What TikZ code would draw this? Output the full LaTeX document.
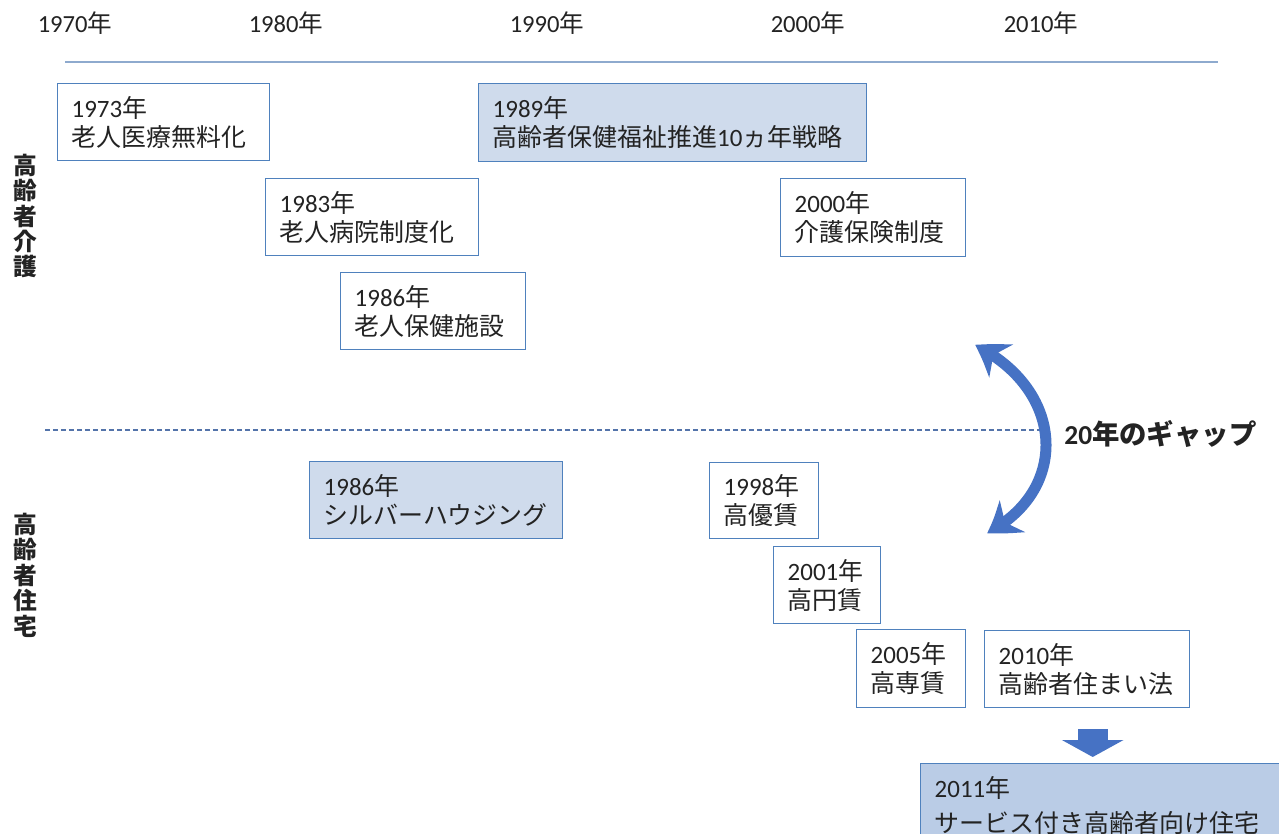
\documentclass[tikz,border=0pt]{standalone}
\usepackage{fontspec}
\setmainfont{Noto Sans CJK JP}
\newfontfamily\lat{Carlito}
\usetikzlibrary{arrows.meta,bending}
\definecolor{boxblue}{RGB}{79,129,189}
\definecolor{shadeA}{RGB}{207,219,236}
\definecolor{shadeB}{RGB}{186,204,230}
\definecolor{arrblue}{RGB}{70,114,196}
\definecolor{ruleblue}{RGB}{142,170,206}
\definecolor{dashblue}{RGB}{84,116,170}
\definecolor{ink}{RGB}{35,35,35}
\tikzset{
  evbox/.style={draw=boxblue,line width=0.8pt,fill=white,anchor=north west,align=left,
    inner xsep=0.28cm,inner ysep=0pt,text=ink,font=\fontsize{14.2}{16.5}\selectfont},
  shaded/.style={fill=shadeA},
  yearlab/.style={inner sep=0pt,text=ink,font=\fontsize{14}{16}\selectfont},
  sidelab/.style={inner sep=0pt,align=center,text=ink,font=\fontsize{13.5}{14.5}\selectfont\bfseries},
  gaparr/.style={draw=arrblue,line width=0.22cm,
    {Stealth[length=0.62cm,width=0.8cm,inset=0.2cm,bend]}-{Stealth[length=0.62cm,width=0.8cm,inset=0.2cm,bend]}},
  downarr/.style={draw=arrblue,line width=0.6cm,-{Triangle[width=1.22cm,length=0.34cm]}},
}
\newcommand{\yr}[1]{{\lat #1}年}
\newcommand{\evbox}[7][]{% [style], name, x, y, width, height, text   (px units)
  \pgfmathsetlengthmacro\evtw{#5*0.02cm-0.56cm}%
  \pgfmathsetlengthmacro\evth{#6*0.02cm}%
  \node[evbox,#1,text width=\evtw,minimum height=\evth] (#2) at (#3,#4) {#7};}
\begin{document}
\begin{tikzpicture}[x=0.02cm,y=-0.02cm]
  \clip (0,0) rectangle (1279,834);
  \fill[white] (0,0) rectangle (1279,834);
  % decade labels and rules
  \foreach \yy/\xx in {1970/75,1980/286,1990/547,2000/808,2010/1041}
    \node[yearlab] (dec\yy) at (\xx,23) {\yr{\yy}};
  \draw[ruleblue,line width=0.85pt] (65,62) -- (1218,62);
  \draw[dashblue,line width=0.85pt,dash pattern=on 0.1cm off 0.06cm] (45,430) -- (1040,430);
  \node[sidelab] (care) at (25,216) {高\\齢\\者\\介\\護};
  \node[sidelab] (house) at (25,575) {高\\齢\\者\\住\\宅};
  % care side
  \evbox{ev1973}{57}{83}{212}{77}{\yr{1973}\\老人医療無料化}
  \evbox[shaded]{ev1989}{478}{83}{388}{78}{\yr{1989}\\高齢者保健福祉推進{\lat 10}ヵ年戦略}
  \evbox{ev1983}{265}{178}{213}{77}{\yr{1983}\\老人病院制度化}
  \evbox{ev2000}{780}{178}{185}{78}{\yr{2000}\\介護保険制度}
  \evbox{ev1986}{340}{272}{185}{77}{\yr{1986}\\老人保健施設}
  % housing side
  \evbox[shaded]{evsilver}{309}{461}{253}{77}{\yr{1986}\\シルバーハウジング}
  \evbox{ev1998}{709}{462}{109}{76}{\yr{1998}\\高優賃}
  \evbox{ev2001}{773}{546}{107}{77}{\yr{2001}\\高円賃}
  \evbox{ev2005}{856}{629}{109}{78}{\yr{2005}\\高専賃}
  \evbox{ev2010}{984}{630}{205}{77}{\yr{2010}\\高齢者住まい法}
  \evbox[fill=shadeB,font=\fontsize{14.2}{19.9}\selectfont]{ev2011}{920}{763}{360}{83}{\yr{2011}\\サービス付き高齢者向け住宅}
  \draw[downarr] (ev2010.south) ++(5.5,21) coordinate (dtop) -- ([yshift=0.12cm]dtop |- ev2011.north);
  % gap arrow
  \coordinate (gaptop) at (975,345);
  \coordinate (gapbot) at (987,533);
  \draw[gaparr] (gaptop) .. controls (1065,390) and (1070,490) .. (gapbot);
  \node[anchor=west,inner sep=0pt,text=ink,font=\fontsize{15.6}{18}\selectfont\bfseries] (gap) at (1064,434) {{\lat 20}年のギャップ};
\end{tikzpicture}
\end{document}
